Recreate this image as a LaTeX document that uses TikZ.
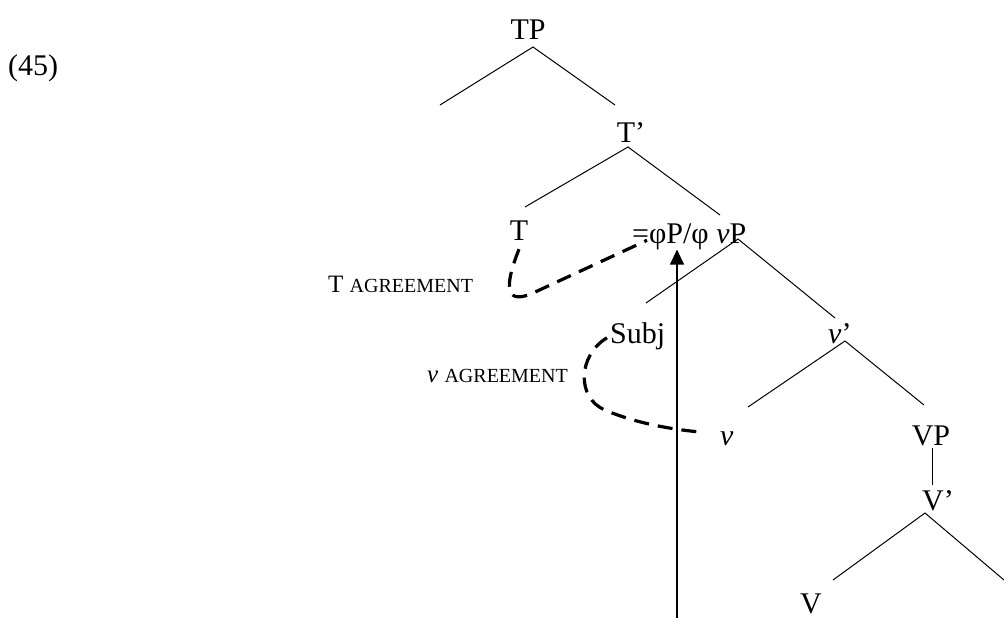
\documentclass[tikz,border=0pt]{standalone}
\usepackage{fontspec}
\setmainfont{Liberation Serif}
\usepackage{tikz}
\usetikzlibrary{arrows.meta, calc}
\tikzset{
  cat/.style    = {inner sep=0pt, anchor=base, font=\fontsize{30}{36}\selectfont},
  catW/.style   = {inner sep=0pt, anchor=base west, font=\fontsize{30}{36}\selectfont},
  agrlbl/.style = {inner sep=0pt, anchor=base west, font=\fontsize{25}{30}\selectfont},
  branch/.style = {line width=1pt},
  agree/.style  = {line width=3.2pt, dash pattern=on 15pt off 9pt},
  move/.style   = {line width=1.2pt, -{Triangle[width=14pt,length=15pt]}},
}
\newcommand{\smcap}[1]{{\fontsize{20}{24}\selectfont #1}}

\begin{document}
\begin{tikzpicture}[x=1pt, y=-1pt]
    \useasboundingbox (0,0) rectangle (1004,618);

    %% Example number
    \node[catW] (ex) at (8,75) {(45)};

    %% Tree labels
    \node[cat]  (TP)   at (528,40)  {TP};
    \node[cat]  (Tbar) at (631,142) {T’};
    \node[cat]  (T)    at (519,240) {T};
    \node[catW] (phiP) at (632,243) {=φP/φ \textit{v}P};
    \node[catW] (Subj) at (610,343) {Subj};
    \node[catW] (vbar) at (828,343) {\textit{v}’};
    \node[catW] (v)    at (720,445) {\textit{v}};
    \node[cat]  (VP)   at (931,445) {VP};
    \node[catW] (Vbar) at (922,510) {V’};
    \node[cat]  (V)    at (811,613) {V};

    %% Agreement labels
    \node[agrlbl] (tagr) at (328,292) {T \smcap{AGREEMENT}};
    \node[agrlbl] (vagr) at (427,382) {\textit{v} \smcap{AGREEMENT}};

    %% Branch points
    \coordinate (tp-a)   at (533,47);
    \coordinate (tp-l)   at (440,105);
    \coordinate (tp-r)   at (615,105);
    \coordinate (tb-a)   at (628,147);
    \coordinate (tb-l)   at (525,207);
    \coordinate (tb-r)   at (720,215);
    \coordinate (vp-a)   at (738,239);
    \coordinate (vp-l)   at (646,303);
    \coordinate (vp-r)   at (835,318);
    \coordinate (vb-a)   at (845,341);
    \coordinate (vb-l)   at (748,407);
    \coordinate (vb-r)   at (924,405);
    \coordinate (Vb-a)   at (925,513);
    \coordinate (Vb-l)   at (833,580);
    \coordinate (Vb-r)   at (1004,580);
    \coordinate (arrfoot) at (677,618);

    %% Branches
    \draw[branch] (tp-l) -- (tp-a) -- (tp-r);
    \draw[branch] (tb-l) -- (tb-a) -- (tb-r);
    \draw[branch] (vp-l) -- (vp-a) -- (vp-r);
    \draw[branch] (vb-l) -- (vb-a) -- (vb-r);
    \draw[branch] ($(VP.south)+(1,2)$) -- ($(VP.south |- Vbar.north)+(1,-5)$);
    \draw[branch] (Vb-l) -- (Vb-a) -- (Vb-r);

    %% Movement
    \draw[move] (arrfoot) -- (arrfoot |- phiP.south);

    %% Agreement relations
    \draw[agree] ([yshift=-9pt]T.south)
        .. controls (502,292) and (508,304) .. (533,293)
        -- ([shift={(15,4)}]phiP.west);
    \draw[agree] ([shift={(-3,2)}]Subj.west)
        .. controls (578,355) and (576,398) .. (605,410)
        .. controls (630,421) and (665,429) .. ([shift={(-17,-6)}]v.west);

\end{tikzpicture}
\end{document}
